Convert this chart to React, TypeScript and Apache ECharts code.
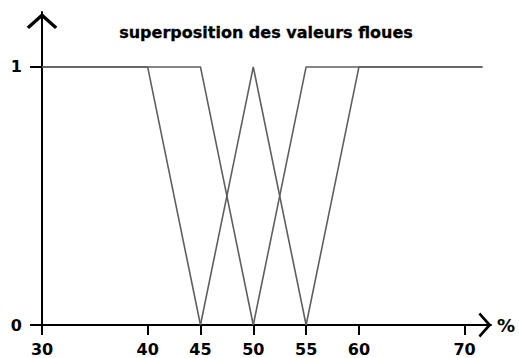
import React, { useEffect, useRef } from "react";
import * as echarts from "echarts";

// Fuzzy membership functions (x in %, membership 0..1)
const setA: [number, number][] = [[30, 1], [40, 1], [45, 0]];
const setB: [number, number][] = [[30, 1], [45, 1], [50, 0]];
const setC: [number, number][] = [[45, 0], [50, 1], [55, 0]];
const setD: [number, number][] = [[50, 0], [55, 1], [71.7, 1]];
const setE: [number, number][] = [[55, 0], [60, 1], [71.7, 1]];

const xTicks = [30, 40, 45, 50, 55, 60, 70];
const yTicks = [0, 1];

const titleText = "superposition des valeurs floues";
const xName = "%";

// open chevron used as the arrow head at the end of each axis
const chevron = "path://M0,9 L10,0 L20,9 L18.4,10.4 L10,3 L1.6,10.4 Z";

const FONT = '"DejaVu Sans", sans-serif';

export default function App() {
  const ref = useRef<HTMLDivElement>(null);

  useEffect(() => {
    if (!ref.current) return;
    const chart = echarts.init(ref.current, undefined, { renderer: "svg" });
    const lineSeries = [setA, setB, setC, setD, setE].map((d) => ({
      type: "line",
      data: d,
      symbol: "none",
      lineStyle: { color: "#5f5f5f", width: 1.6 },
      silent: true,
    }));
    chart.setOption({
      animation: false,
      backgroundColor: "#fff",
      grid: { left: 42, right: 28, top: 12, bottom: 33, containLabel: false },
      graphic: [
        {
          type: "text",
          x: 266,
          y: 32,
          style: {
            text: titleText,
            font: `bold 16px ${FONT}`,
            fill: "#000",
            stroke: "#000",
            lineWidth: 0.3,
            align: "center",
            verticalAlign: "middle",
          },
        },
      ],
      xAxis: {
        type: "value",
        min: 30,
        max: 72.5,
        name: xName,
        nameLocation: "end",
        nameGap: 6,
        nameTextStyle: {
          fontFamily: FONT,
          fontWeight: "bold",
          fontSize: 18,
          color: "#000",
          padding: [5, 0, 0, 0],
        },
        splitLine: { show: false },
        axisLine: {
          lineStyle: { color: "#000", width: 2 },
          symbol: ["none", chevron],
          symbolSize: [26, 13],
          symbolOffset: [0, -6],
        },
        axisTick: {
          show: true,
          length: 10,
          lineStyle: { color: "#000", width: 2 },
          customValues: xTicks,
        },
        axisLabel: {
          customValues: xTicks,
          margin: 16,
          fontFamily: FONT,
          fontWeight: "bold",
          fontSize: 16,
          color: "#000",
        },
      },
      yAxis: {
        type: "value",
        min: 0,
        max: 1.213,
        interval: 1,
        splitLine: { show: false },
        axisLine: {
          show: true,
          lineStyle: { color: "#000", width: 2 },
          symbol: ["none", chevron],
          symbolSize: [31, 16],
          symbolOffset: [0, -9],
        },
        axisTick: {
          show: true,
          length: 12,
          lineStyle: { color: "#000", width: 2 },
          customValues: yTicks,
        },
        axisLabel: {
          customValues: yTicks,
          margin: 20,
          fontFamily: FONT,
          fontWeight: "bold",
          fontSize: 16,
          color: "#000",
          formatter: (v: number) => (v === 0 || v === 1 ? String(v) : ""),
        },
      },
      series: lineSeries,
    });
    return () => chart.dispose();
  }, []);

  return (
    <div
      ref={ref}
      style={{ position: "fixed", left: 0, top: 0, width: 519, height: 358 }}
    />
  );
}
